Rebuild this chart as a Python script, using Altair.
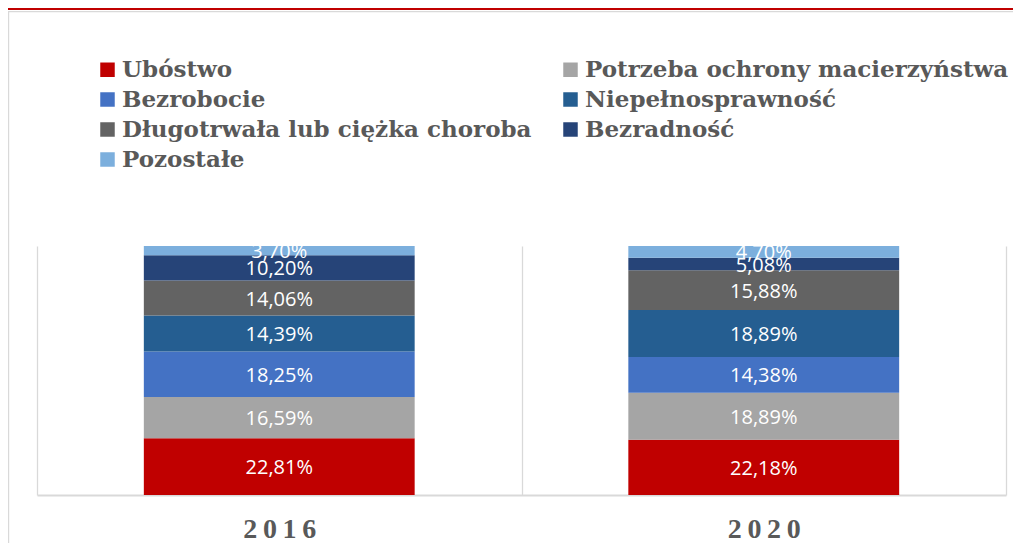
import altair as alt
import pandas as pd

years = ["2016", "2020"]
categories = [
    "Ubóstwo",
    "Potrzeba ochrony macierzyństwa",
    "Bezrobocie",
    "Niepełnosprawność",
    "Długotrwała lub ciężka choroba",
    "Bezradność",
    "Pozostałe",
]
values_2016 = [22.81, 16.59, 18.25, 14.39, 14.06, 10.20, 3.70]
values_2020 = [22.18, 18.89, 14.38, 18.89, 15.88, 5.08, 4.70]
colors = ["#C00000", "#A5A5A5", "#4472C4", "#255E91", "#636363", "#264478", "#7CAFDD"]

rows = []
for yr, vals in zip(years, [values_2016, values_2020]):
    for i, (c, v) in enumerate(zip(categories, vals)):
        rows.append({"year": yr, "cat": c, "order": i, "value": v,
                     "label": f"{v:.2f}".replace(".", ",") + "%"})
df = pd.DataFrame(rows)

W, H = 969, 249

base = alt.Chart(df).transform_stack(
    stack="value", groupby=["year"], as_=["v0", "v1"],
    sort=[alt.SortField("order", order="ascending")]
).transform_calculate(mid="(datum.v0 + datum.v1) / 2")

xaxis = alt.Axis(
    title=None, tickBand="extent", grid=True, gridColor="#D9D9D9", gridWidth=1.3,
    domainColor="#D9D9D9", domainWidth=1.8, ticks=False,
    labelFont="Liberation Serif", labelFontWeight="bold", labelFontSize=28,
    labelColor="#595959", labelPadding=34, labelBaseline="middle", labelAngle=0,
    labelExpr="join(split(datum.label, ''), '\u2009')",
)
xscale = alt.Scale(paddingInner=0, paddingOuter=0)
yscale = alt.Scale(domain=[0, 100])

bars = base.mark_bar(width=alt.RelativeBandSize(0.559)).encode(
    x=alt.X("year:N", sort=years, scale=xscale, axis=xaxis),
    y=alt.Y("v0:Q", scale=yscale, axis=None),
    y2="v1:Q",
    color=alt.Color(
        "cat:N",
        scale=alt.Scale(domain=categories, range=colors),
        legend=alt.Legend(
            title=None, orient="none", direction="horizontal",
            legendX=59, legendY=-188, columns=2,
            symbolType="square", symbolSize=210, symbolStrokeWidth=0, symbolOpacity=1,
            labelFont="DejaVu Serif", labelFontWeight="bold", labelFontSize=23,
            labelColor="#595959", labelLimit=600, labelOffset=3, rowPadding=6,
            columnPadding=27, padding=0,
        ),
    ),
)

texts = base.mark_text(color="white", font="Open Sans", fontSize=20, clip=True, dy=1.5).encode(
    x=alt.X("year:N", sort=years),
    y=alt.Y("mid:Q", scale=yscale, axis=None),
    text="label:N",
)

deco = pd.DataFrame({"k": [0]})
red_line = alt.Chart(deco).mark_rule(color="#C00000", strokeWidth=2.2).encode(
    x=alt.value(-29), x2=alt.value(W + 7), y=alt.value(-237)
)
gray_top = alt.Chart(deco).mark_rule(color="#D9D9D9", strokeWidth=1.2).encode(
    x=alt.value(-29), x2=alt.value(W + 7), y=alt.value(-234.3)
)
gray_left = alt.Chart(deco).mark_rule(color="#D9D9D9", strokeWidth=1.2).encode(
    x=alt.value(-28.4), y=alt.value(-234.3), y2=alt.value(H + 48)
)

chart = alt.layer(bars, texts, red_line, gray_top, gray_left).properties(
    width=W, height=H,
    autosize=alt.AutoSizeParams(type="none"),
    padding={"left": 29, "top": 238, "right": 7, "bottom": 48},
).configure_view(stroke=None)

chart.save("out.html", embed_options={"renderer": "svg", "actions": False})
